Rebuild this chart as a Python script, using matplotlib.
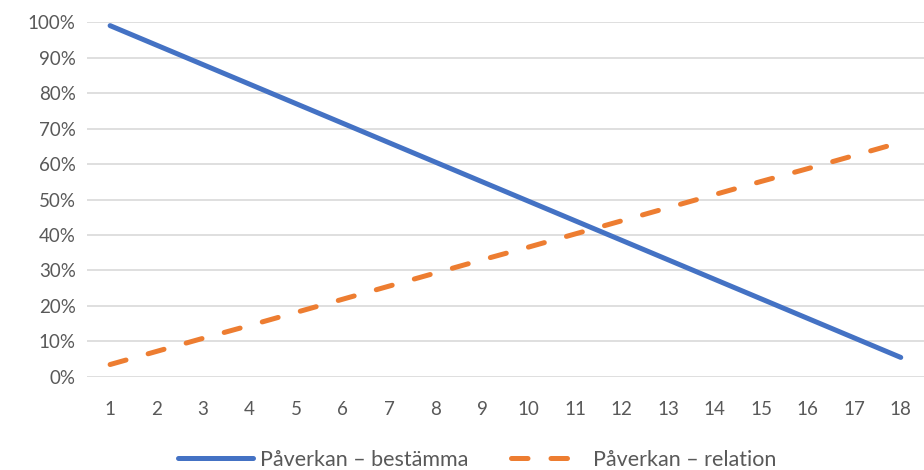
import numpy as np
import matplotlib.pyplot as plt
from matplotlib.ticker import PercentFormatter

plt.rcParams['font.family'] = ['Lato', 'DejaVu Sans']

# data
x_cat = list(range(1, 19))
bestamma = [99, 93.5, 88, 82.5, 77, 71.5, 66, 60.5, 55, 49.5,
            44, 38.5, 33, 27.5, 22, 16.5, 11, 5.5]
relation = [3.5, 7.2, 10.9, 14.5, 18.2, 21.9, 25.6, 29.3, 33, 36.6,
            40.3, 44, 47.7, 51.4, 55.1, 58.7, 62.4, 66.1]
y_ticks = list(range(0, 101, 10))

fig = plt.figure(figsize=(9.24, 4.70), dpi=100)
ax = fig.add_axes([0.094, 0.198, 0.906, 0.755])

ax.plot(x_cat, bestamma, color='#4472C4', lw=3.6, solid_capstyle='round',
        label='Påverkan – bestämma', zorder=3)
ax.plot(x_cat, relation, color='#ED7D31', lw=3.6, dash_capstyle='round',
        dashes=(3.3, 4.6), label='Påverkan – relation', zorder=3)

ax.set_xlim(0.5, 18.5)
ax.set_ylim(0, 100)
ax.set_xticks(x_cat)
ax.set_yticks(y_ticks)
ax.yaxis.set_major_formatter(PercentFormatter(decimals=0))
ax.grid(axis='y', color='#D9D9D9', lw=1.2)
ax.set_axisbelow(True)
for s in ax.spines.values():
    s.set_visible(False)
ax.tick_params(length=0, labelsize=13.5, labelcolor='#595959')
ax.tick_params(axis='x', pad=17)
ax.tick_params(axis='y', pad=8)

ax.legend(loc='center', bbox_to_anchor=(0.466, -0.233), ncol=2,
          frameon=False, fontsize=15.5, labelcolor='#595959',
          handlelength=3.5, columnspacing=2.0, handletextpad=0.3)

fig.savefig('out.png', dpi=100)
